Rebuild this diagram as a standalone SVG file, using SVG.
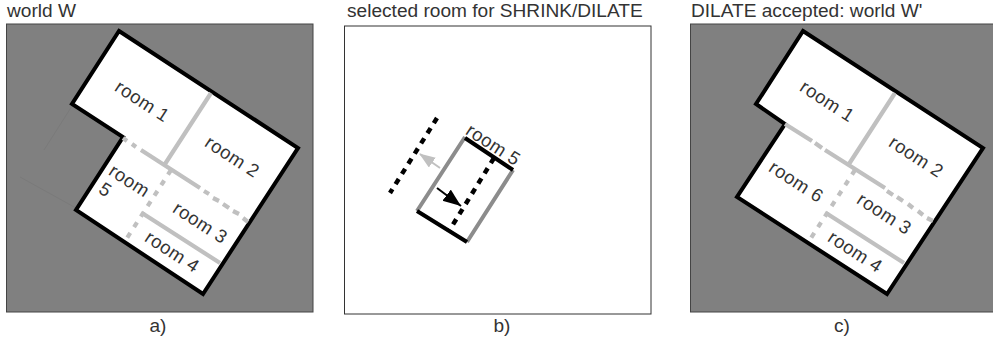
<svg xmlns="http://www.w3.org/2000/svg" width="993" height="343" viewBox="0 0 993 343">
<style>
text{font-family:"Liberation Sans",Arial,sans-serif;fill:#333}
.t{font-size:19.100px}
.r{font-size:18.500px;text-anchor:middle;letter-spacing:.5px}
.w{fill:#808080;stroke:#444;stroke-width:1}
.o{fill:#fff;stroke:#000;stroke-width:4;stroke-linejoin:miter}
.g{stroke:#c0c0c0;stroke-width:4.200px;fill:none}
.d{stroke-dasharray:5.500 7}
.k{stroke:#000;stroke-width:4;fill:none}
.m{stroke:#8c8c8c;stroke-width:4;fill:none}
.kd{stroke:#000;stroke-width:4.500px;stroke-dasharray:6 6;fill:none}
.f{stroke:#7a7a7a;stroke-width:1;fill:none}
</style>
<defs>
<marker id="ab" markerUnits="userSpaceOnUse" markerWidth="20" markerHeight="16" refX="18" refY="7" orient="auto"><path d="M0 0L18 7L0 14z" fill="#000"/></marker>
<marker id="ag" markerUnits="userSpaceOnUse" markerWidth="18" markerHeight="14" refX="15" refY="6" orient="auto"><path d="M0 0L16 6L0 12z" fill="#c0c0c0"/></marker>
</defs>
<g id="panel-a">
<text class="t" x="7" y="17">world W</text>
<rect class="w" x="6.500" y="24" width="306.500" height="288"/>
<path class="f" d="M72 106L44 150M20 177L76 208"/>
<path class="o" d="M119 31L298 148L203 294L76 210L123 137L72 104Z"/>
<path class="g" d="M211 93L165 164M141 150L200 188M123 138L127 141M132 144L136 147M204 191L209 194M213 198L219 201M223 204L229 208M233 211L239 214M243 218L248 222M142 213L220 263"/>
<path class="g d" d="M171 170L127 238"/>
<text class="r" transform="translate(139 106.500) rotate(33)">room 1</text>
<text class="r" transform="translate(229 162) rotate(33)">room 2</text>
<text class="r" transform="translate(197 228) rotate(33)">room 3</text>
<text class="r" transform="translate(169 257) rotate(33)">room 4</text>
<text class="r" transform="translate(126 186) rotate(33)">room</text>
<text class="r" transform="translate(102 195) rotate(33)">5</text>
<text class="t" x="158" y="332" text-anchor="middle">a)</text>
</g>
<g id="panel-b">
<text class="t" x="347" y="17">selected room for SHRINK/DILATE</text>
<rect x="344.500" y="26" width="306.500" height="288" fill="#fff" stroke="#333"/>
<path class="m" d="M465 137L417 211M513 170L467 242"/>
<path class="k" d="M465 138L513 170M417 211L467 242"/>
<path class="kd" d="M494 158L449 231M437 118L390 193"/>
<path stroke="#c0c0c0" stroke-width="2" fill="none" marker-end="url(#ag)" d="M440 168L420 154"/>
<path stroke="#000" stroke-width="2" fill="none" marker-end="url(#ab)" d="M437 188L461 206"/>
<text class="r" transform="translate(490 150) rotate(33)">room 5</text>
<text class="t" x="502" y="332" text-anchor="middle">b)</text>
</g>
<g id="panel-c">
<text class="t" x="691" y="17">DILATE accepted: world W'</text>
<rect class="w" x="690.500" y="24" width="303" height="288"/>
<path class="o" d="M803 31L983 148L887 294L737 197L785 124L756 104Z"/>
<path class="g" d="M895 93L849 164M785 124L812 141M815 143L822 148M825 150L885 188M887 191L893 195M897 197L903 201M908 204L913 208M918 211L923 215M927 218L933 221M826 213L904 263"/>
<path class="g d" d="M855 170L811 238"/>
<text class="r" transform="translate(824 106.500) rotate(33)">room 1</text>
<text class="r" transform="translate(913 162) rotate(33)">room 2</text>
<text class="r" transform="translate(881 219) rotate(33)">room 3</text>
<text class="r" transform="translate(852 257) rotate(33)">room 4</text>
<text class="r" transform="translate(793 187) rotate(33)">room 6</text>
<text class="t" x="842" y="332" text-anchor="middle">c)</text>
</g>
</svg>
